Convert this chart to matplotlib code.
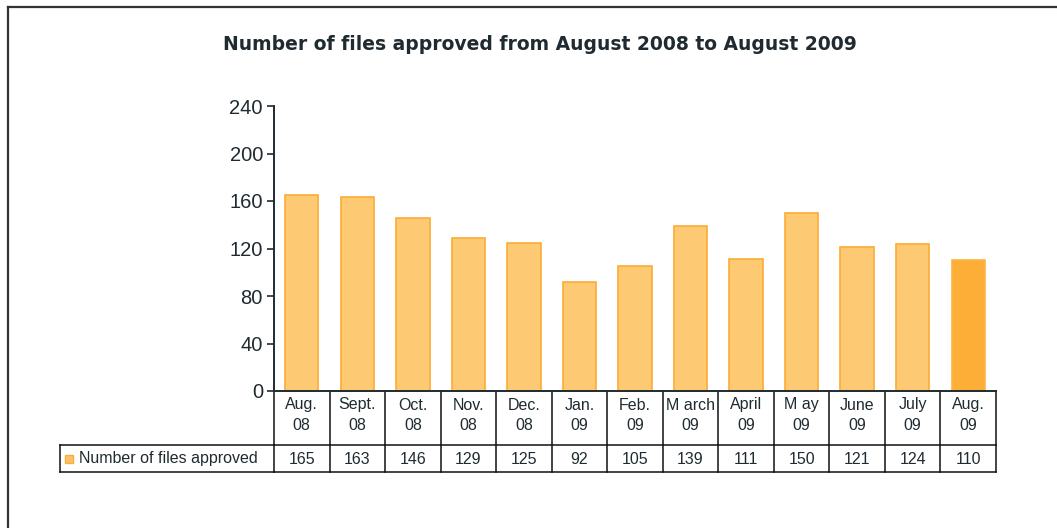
import matplotlib.pyplot as plt
from matplotlib.transforms import blended_transform_factory

# Data
months = ["Aug.", "Sept.", "Oct.", "Nov.", "Dec.", "Jan.", "Feb.", "M arch",
          "April", "M ay", "June", "July", "Aug."]
years = ["08", "08", "08", "08", "08", "09", "09", "09", "09", "09", "09", "09", "09"]
files_approved = [165, 163, 146, 129, 125, 92, 105, 139, 111, 150, 121, 124, 110]
yticks = [0, 40, 80, 120, 160, 200, 240]

plt.rcParams['font.family'] = ['Liberation Sans', 'DejaVu Sans']
text_col = "#1f2b30"
light_fill, light_edge = "#fdc972", "#fbac35"
dark_fill, dark_edge = "#fdae37", "#fdb445"

W, H = 1057, 528
fig = plt.figure(figsize=(W / 100, H / 100), dpi=100)

def fy(py):
    # pixel row from top -> figure fraction
    return 1 - py / H

def fx(px):
    return px / W

# outer frame (top and left edges only)
fig.add_artist(plt.Line2D([fx(8), 1], [fy(7), fy(7)], color="#333333", lw=1.6))
fig.add_artist(plt.Line2D([fx(8), fx(8)], [0, fy(7)], color="#333333", lw=1.6))

fig.text(fx(540), fy(45), "Number of files approved from August 2008 to August 2009",
         ha="center", va="center", fontsize=13.5, fontweight="bold", color=text_col,
         family="DejaVu Sans")

ax = fig.add_axes([fx(274), fy(391), fx(996) - fx(274), fy(106) - fy(391)])
n = len(files_approved)
colors = [light_fill] * (n - 1) + [dark_fill]
edges = [light_edge] * (n - 1) + [dark_edge]
ax.bar(range(n), files_approved, width=0.6, color=colors, edgecolor=edges, linewidth=1.2, zorder=2)

ax.set_xlim(-0.5, n - 0.5)
ax.set_ylim(0, 240)
ax.set_yticks(yticks)
ax.set_yticklabels([str(t) for t in yticks], fontsize=14.5, color=text_col)
ax.tick_params(axis="y", direction="out", length=5, width=1.2, color=text_col, pad=3)
ax.set_xticks([])
for s in ["top", "right"]:
    ax.spines[s].set_visible(False)
ax.spines["left"].set_color(text_col)
ax.spines["left"].set_linewidth(1.4)
ax.spines["bottom"].set_color(text_col)
ax.spines["bottom"].set_linewidth(1.4)

# data table under the axis
tr = blended_transform_factory(ax.transData, fig.transFigure)
y_top, y_mid, y_bot = fy(391), fy(445), fy(472)
lc = "#111111"
for i in range(n + 1):
    ax.plot([i - 0.5, i - 0.5], [y_top, y_bot], color=lc, lw=1.1, transform=tr, clip_on=False)
ax.plot([-0.5, n - 0.5], [y_mid, y_mid], color=lc, lw=1.1, transform=tr, clip_on=False)
ax.plot([-0.5, n - 0.5], [y_bot, y_bot], color=lc, lw=1.1, transform=tr, clip_on=False)
fig.add_artist(plt.Line2D([fx(60), fx(274)], [y_mid, y_mid], color=lc, lw=1.1))
fig.add_artist(plt.Line2D([fx(60), fx(274)], [y_bot, y_bot], color=lc, lw=1.1))
fig.add_artist(plt.Line2D([fx(60), fx(60)], [y_bot, y_mid], color=lc, lw=1.1))

fs = 11.5
for i in range(n):
    ax.text(i, fy(405), months[i], ha="center", va="center", fontsize=fs,
            color=text_col, transform=tr)
    ax.text(i, fy(426), years[i], ha="center", va="center", fontsize=fs,
            color=text_col, transform=tr)
    ax.text(i, fy(459), str(files_approved[i]), ha="center", va="center", fontsize=fs,
            color=text_col, transform=tr)

# legend key in the table
fig.add_artist(plt.Rectangle((fx(65), fy(463)), fx(8), 8 / H, facecolor="#fdc26a",
                             edgecolor=dark_fill, lw=1.0))
fig.text(fx(79), fy(459), "Number of files approved", ha="left", va="center",
         fontsize=fs, color=text_col)

fig.savefig("out.png", dpi=100)
